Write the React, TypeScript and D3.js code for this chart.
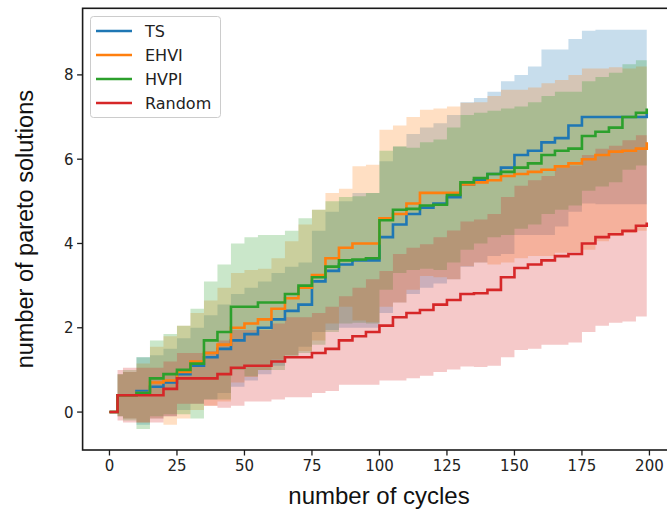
import React from "react";
import * as d3 from "d3";

const CYCLES = [0, 1, 3, 5, 10, 15, 20, 25, 30, 35, 40, 45, 50, 55, 60, 65, 70, 75, 80, 85, 90, 95, 100, 105, 110, 115, 120, 125, 130, 135, 140, 145, 150, 155, 160, 165, 170, 175, 180, 185, 190, 195, 199];

const SERIES_NAMES = ["TS", "EHVI", "HVPI", "Random"];
const SERIES_COLORS = ["#1f77b4", "#ff7f0e", "#2ca02c", "#d62728"];

const TS_MEAN = [0, 0, 0.4, 0.4, 0.5, 0.6, 0.7, 0.9, 1.1, 1.3, 1.5, 1.7, 1.85, 2.0, 2.2, 2.4, 2.55, 3.1, 3.35, 3.5, 3.6, 3.6, 4.15, 4.45, 4.7, 4.85, 4.95, 5.1, 5.4, 5.5, 5.65, 5.8, 6.1, 6.2, 6.4, 6.5, 6.8, 7.0, 7.0, 7.0, 7.0, 7.0, 7.1];
const TS_STD = [0, 0, 0.5, 0.55, 0.8, 0.75, 0.8, 0.85, 0.9, 1.0, 1.05, 1.1, 1.1, 1.1, 1.1, 1.05, 1.0, 1.2, 1.4, 1.5, 1.6, 1.6, 1.8, 1.85, 1.9, 1.9, 1.9, 1.95, 1.95, 1.95, 1.95, 2.05, 1.9, 2.0, 2.2, 2.1, 2.05, 2.05, 2.07, 2.07, 2.07, 2.07, 1.97];

const EHVI_MEAN = [0, 0, 0.4, 0.4, 0.45, 0.7, 0.75, 0.95, 1.2, 1.4, 1.6, 2.0, 2.1, 2.2, 2.45, 2.7, 2.95, 3.25, 3.65, 3.9, 4.0, 4.0, 4.6, 4.7, 4.95, 5.2, 5.2, 5.2, 5.4, 5.45, 5.5, 5.6, 5.65, 5.7, 5.75, 5.83, 5.9, 6.0, 6.1, 6.18, 6.2, 6.25, 6.4];
const EHVI_STD = [0, 0, 0.5, 0.55, 0.7, 0.85, 1.05, 1.1, 1.15, 1.25, 1.35, 1.3, 1.27, 1.2, 1.2, 1.35, 1.5, 1.55, 1.55, 1.4, 1.83, 1.87, 2.1, 2.1, 2.05, 1.97, 2.0, 2.05, 1.94, 1.9, 2.0, 2.05, 2.0, 2.0, 2.05, 2.05, 2.1, 2.15, 2.05, 2.0, 1.95, 1.95, 2.0];

const HVPI_MEAN = [0, 0, 0.4, 0.4, 0.45, 0.8, 0.9, 1.0, 1.15, 1.7, 1.9, 2.5, 2.5, 2.6, 2.6, 2.8, 3.0, 3.2, 3.45, 3.6, 3.62, 3.65, 4.55, 4.8, 4.82, 4.9, 4.92, 5.15, 5.45, 5.55, 5.65, 5.7, 5.8, 5.9, 6.1, 6.2, 6.25, 6.55, 6.65, 6.75, 7.0, 7.1, 7.2];
const HVPI_STD = [0, 0, 0.5, 0.6, 0.85, 0.9, 0.95, 1.05, 1.3, 1.4, 1.6, 1.5, 1.65, 1.6, 1.6, 1.5, 1.6, 1.6, 1.55, 1.5, 1.5, 1.55, 1.65, 1.5, 1.45, 1.5, 1.55, 1.6, 1.6, 1.55, 1.5, 1.5, 1.45, 1.45, 1.4, 1.4, 1.35, 1.3, 1.3, 1.3, 1.25, 1.25, 1.25];

const RANDOM_MEAN = [0, 0, 0.4, 0.4, 0.4, 0.4, 0.55, 0.8, 0.8, 0.8, 0.9, 1.05, 1.1, 1.1, 1.2, 1.3, 1.3, 1.4, 1.5, 1.7, 1.8, 1.9, 2.05, 2.25, 2.35, 2.42, 2.55, 2.66, 2.8, 2.82, 2.9, 3.2, 3.42, 3.5, 3.6, 3.7, 3.75, 4.0, 4.15, 4.22, 4.3, 4.42, 4.5];
const RANDOM_STD = [0, 0, 0.6, 0.65, 0.65, 0.65, 0.65, 0.6, 0.6, 0.65, 0.8, 0.9, 0.85, 0.85, 0.9, 0.95, 0.95, 0.95, 1.0, 1.05, 1.15, 1.25, 1.3, 1.5, 1.55, 1.56, 1.6, 1.65, 1.72, 1.75, 1.8, 1.9, 1.95, 2.0, 2.0, 2.1, 2.1, 2.1, 2.1, 2.1, 2.15, 2.15, 2.15];

const X_TICKS = [0, 25, 50, 75, 100, 125, 150, 175, 200];
const Y_TICKS = [0, 2, 4, 6, 8];

const MEANS = [TS_MEAN, EHVI_MEAN, HVPI_MEAN, RANDOM_MEAN];
const STDS = [TS_STD, EHVI_STD, HVPI_STD, RANDOM_STD];

const W = 667;
const H = 509;
const AX = { left: 82.6, right: 673.6, top: 8.3, bottom: 450 };

export default function App() {
  const x = d3.scaleLinear().domain([-9.95, 208.95]).range([AX.left, AX.right]);
  const y = d3.scaleLinear().domain([-0.9, 9.58]).range([AX.bottom, AX.top]);

  const series = SERIES_NAMES.map((name, i) => ({
    name,
    color: SERIES_COLORS[i],
    pts: CYCLES.map((c, j) => ({ c, m: MEANS[i][j], s: STDS[i][j] })),
  }));

  const area = d3
    .area<any>()
    .curve(d3.curveStepAfter)
    .x((d) => x(d.c))
    .y0((d) => y(d.m - d.s))
    .y1((d) => y(d.m + d.s));
  const line = d3
    .line<any>()
    .curve(d3.curveStepAfter)
    .x((d) => x(d.c))
    .y((d) => y(d.m));

  const tickFont = "DejaVu Sans, sans-serif";
  const labelFont = "Liberation Sans, Arial, sans-serif";

  return (
    <svg width={W} height={H} style={{ position: "absolute", left: 0, top: 0, background: "#fff" }}>
      <defs>
        <clipPath id="plotclip">
          <rect x={AX.left} y={AX.top} width={AX.right - AX.left} height={AX.bottom - AX.top} />
        </clipPath>
      </defs>
      <g clipPath="url(#plotclip)">
        {series.map((s) => (
          <path key={"a" + s.name} d={area(s.pts) || ""} fill={s.color} fillOpacity={0.25} stroke="none" />
        ))}
        {series.map((s) => (
          <path key={"l" + s.name} d={line(s.pts) || ""} fill="none" stroke={s.color} strokeWidth={2.6} />
        ))}
      </g>
      <rect x={AX.left} y={AX.top} width={AX.right - AX.left} height={AX.bottom - AX.top} fill="none" stroke="#1a1a1a" strokeWidth={1.6} />
      {X_TICKS.map((t) => (
        <g key={"xt" + t}>
          <line x1={x(t)} x2={x(t)} y1={AX.bottom} y2={AX.bottom + 5.5} stroke="#1a1a1a" strokeWidth={1.3} />
          <text x={x(t)} y={AX.bottom + 21} textAnchor="middle" fontFamily={tickFont} fontSize={15} fill="#222">
            {t}
          </text>
        </g>
      ))}
      {Y_TICKS.map((t) => (
        <g key={"yt" + t}>
          <line x1={AX.left - 5.5} x2={AX.left} y1={y(t)} y2={y(t)} stroke="#1a1a1a" strokeWidth={1.3} />
          <text x={AX.left - 9} y={y(t) + 5.5} textAnchor="end" fontFamily={tickFont} fontSize={15} fill="#222">
            {t}
          </text>
        </g>
      ))}
      <text x={379} y={504} textAnchor="middle" fontFamily={labelFont} fontSize={24} fill="#111">
        number of cycles
      </text>
      <text
        transform={`translate(33, ${(AX.top + AX.bottom) / 2}) rotate(-90)`}
        textAnchor="middle"
        fontFamily={labelFont}
        fontSize={23.5}
        fill="#111"
      >
        number of pareto solutions
      </text>
      <g>
        <rect x={90.5} y={16.5} width={130} height={101} rx={3} fill="#fff" fillOpacity={0.8} stroke="#cccccc" strokeWidth={1} />
        {series.map((s, i) => (
          <g key={"lg" + s.name} transform={`translate(0, ${31 + i * 24})`}>
            <line x1={96} x2={132} y1={0} y2={0} stroke={s.color} strokeWidth={2.6} />
            <text x={145} y={5.5} fontFamily={tickFont} fontSize={16} fill="#222">
              {s.name}
            </text>
          </g>
        ))}
      </g>
    </svg>
  );
}
